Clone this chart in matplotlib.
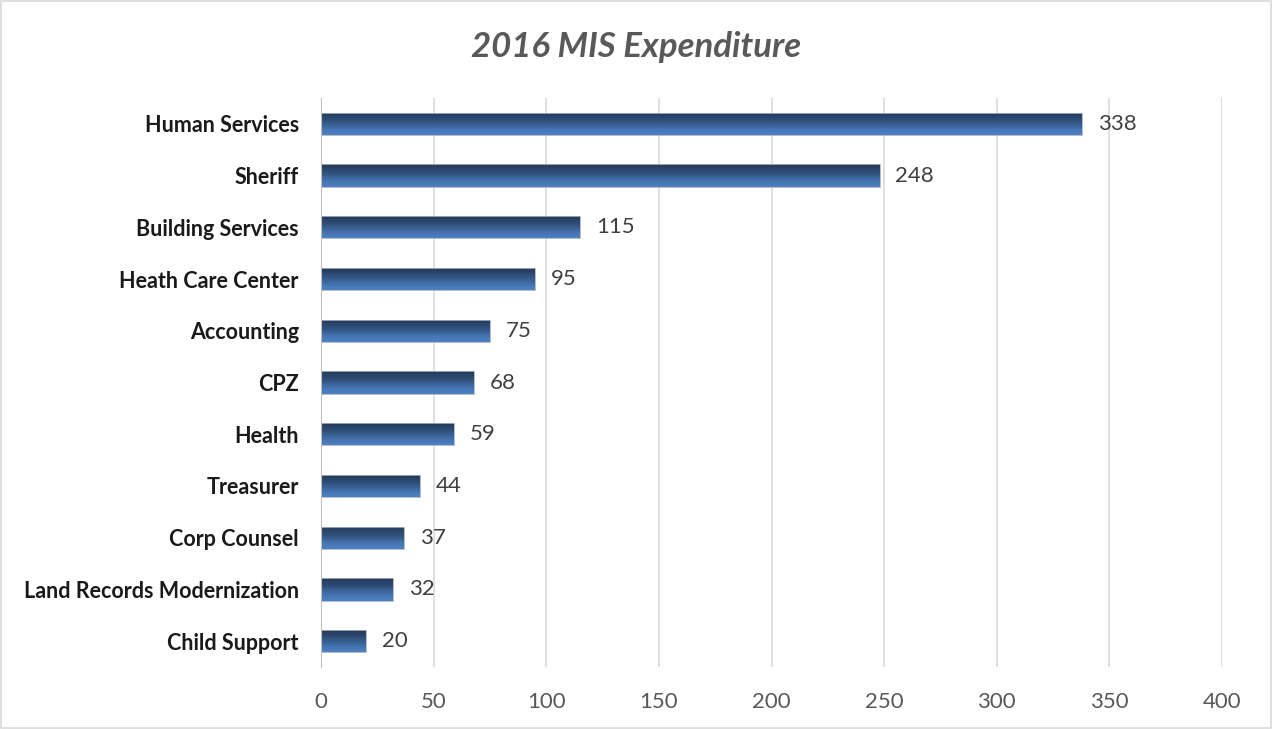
import numpy as np
import matplotlib
matplotlib.use("Agg")
import matplotlib.pyplot as plt
from matplotlib.colors import LinearSegmentedColormap
from matplotlib.patches import Rectangle

# Veri
kategoriler = ["Human Services", "Sheriff", "Building Services", "Heath Care Center",
               "Accounting", "CPZ", "Health", "Treasurer", "Corp Counsel",
               "Land Records Modernization", "Child Support"]
degerler = [338, 248, 115, 95, 75, 68, 59, 44, 37, 32, 20]
x_ticks = [0, 50, 100, 150, 200, 250, 300, 350, 400]

fig = plt.figure(figsize=(12.72, 7.29), dpi=100)
ax = fig.add_axes([0.2524, 0.085, 0.7083, 0.7806])

# bar gradyani (ust koyu, alt acik) - ince seritlerle
cmap = LinearSegmentedColormap.from_list(
    "bar", [(0, "#243a5a"), (0.35, "#2f4e78"), (0.75, "#4473b0"), (1, "#4c80c2")])

yler = np.arange(len(kategoriler))
h = 0.43
n = 24
for i in range(n):
    ax.barh(yler - h / 2 + (i + 0.5) * h / n, degerler, height=h / n * 1.05,
            color=cmap(i / (n - 1)), linewidth=0, zorder=3)
ax.barh(yler, degerler, height=h, fill=False, edgecolor="#a8b2c0", linewidth=0.6, zorder=4)

for y, v in zip(yler, degerler):
    ax.text(v + 7, y, str(v), va="center", ha="left", fontsize=16,
            color="#404040", family="Lato")

ax.set_xlim(0, 400)
ax.set_ylim(len(kategoriler) - 0.5, -0.5)
ax.set_xticks(x_ticks)
ax.set_xticklabels([str(t) for t in x_ticks], fontsize=16, color="#595959", family="Lato")
ax.set_yticks(yler)
ax.set_yticklabels(kategoriler, fontsize=15.5, color="#1a1a1a", family="Lato",
                   fontweight="bold")
ax.tick_params(axis="both", length=0)
ax.tick_params(axis="y", pad=16)
ax.tick_params(axis="x", pad=18)

ax.grid(axis="x", color="#d9d9d9", linewidth=1.2, zorder=0)
ax.set_axisbelow(True)
for s in ["top", "right", "bottom"]:
    ax.spines[s].set_visible(False)
ax.spines["left"].set_color("#bfbfbf")
ax.spines["left"].set_zorder(5)

fig.text(0.5, 0.936, "2016 MIS Expenditure", ha="center", va="center", fontsize=25,
         fontweight="bold", fontstyle="italic", color="#595959", family="Lato")

# dis cerceve
fig.add_artist(Rectangle((0.001, 0.001), 0.998, 0.998, transform=fig.transFigure,
                         fill=False, edgecolor="#d9d9d9", linewidth=1.2))

fig.savefig("out.png", dpi=100)
